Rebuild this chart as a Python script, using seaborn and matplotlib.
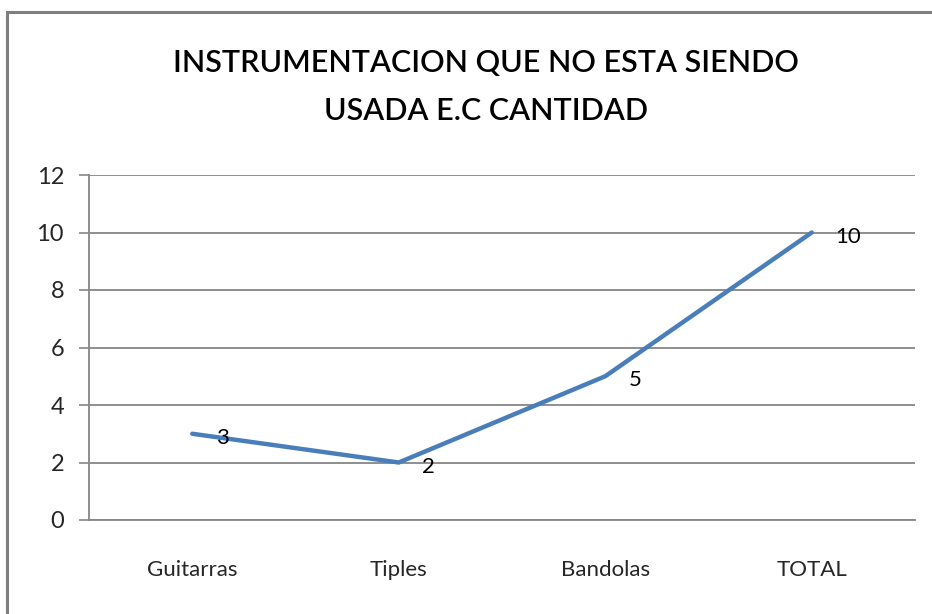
import matplotlib
matplotlib.use('Agg')
import matplotlib.pyplot as plt
import seaborn as sns
from matplotlib.patches import Rectangle

categorias = ['Guitarras', 'Tiples', 'Bandolas', 'TOTAL']
cantidad = [3, 2, 5, 10]
titulo = 'INSTRUMENTACION QUE NO ESTA SIENDO\nUSADA E.C CANTIDAD'

sns.set_style('white')
plt.rcParams['font.family'] = ['Lato', 'DejaVu Sans']

fig = plt.figure(figsize=(9.32, 6.14), dpi=100)
ax = fig.add_axes([89 / 932, 1 - 520 / 614, 826 / 932, 345 / 614])

azul = '#4a7ebb'
gris = '#868686'

sns.lineplot(x=categorias, y=cantidad, sort=False, color=azul, lw=3.2, ax=ax)

# etiquetas de datos a la derecha de cada punto
for i, v in enumerate(cantidad):
    ax.annotate(str(v), (i, v), xytext=(17, -3), textcoords='offset points',
                ha='left', va='center', fontsize=16, color='black')

ax.set_xlim(-0.5, 3.5)
ax.set_ylim(0, 12)
ax.set_yticks(range(0, 13, 2))
ax.set_xticks(range(len(categorias)))
ax.set_xticklabels(categorias)
ax.set_xticks([-0.5, 0.5, 1.5, 2.5, 3.5], minor=True)
ax.tick_params(axis='x', which='major', length=0, pad=29, labelsize=16)
ax.tick_params(axis='x', which='minor', length=6, width=1, color=gris, direction='out')
ax.tick_params(axis='y', length=7, width=1.2, color=gris, pad=11, labelsize=17, direction='out')
ax.tick_params(bottom=True, left=True)

ax.grid(axis='y', color=gris, lw=1.3)
ax.set_axisbelow(True)
for s in ['top', 'right']:
    ax.spines[s].set_visible(False)
for s in ['left', 'bottom']:
    ax.spines[s].set_color(gris)
    ax.spines[s].set_linewidth(1.3)
ax.set_xlabel('')
ax.set_ylabel('')

fig.text(486 / 932, 1 - 87 / 614, titulo, ha='center', va='center',
         fontsize=22, fontweight='semibold', linespacing=1.85, color='black')

# marco exterior del gráfico
fig.patches.append(Rectangle((7 / 932, -0.1), 1.1, 1 - 12 / 614 + 0.1,
                             transform=fig.transFigure, fill=False,
                             edgecolor='#7f7f7f', lw=2.2))

fig.savefig('out.png', dpi=100)
